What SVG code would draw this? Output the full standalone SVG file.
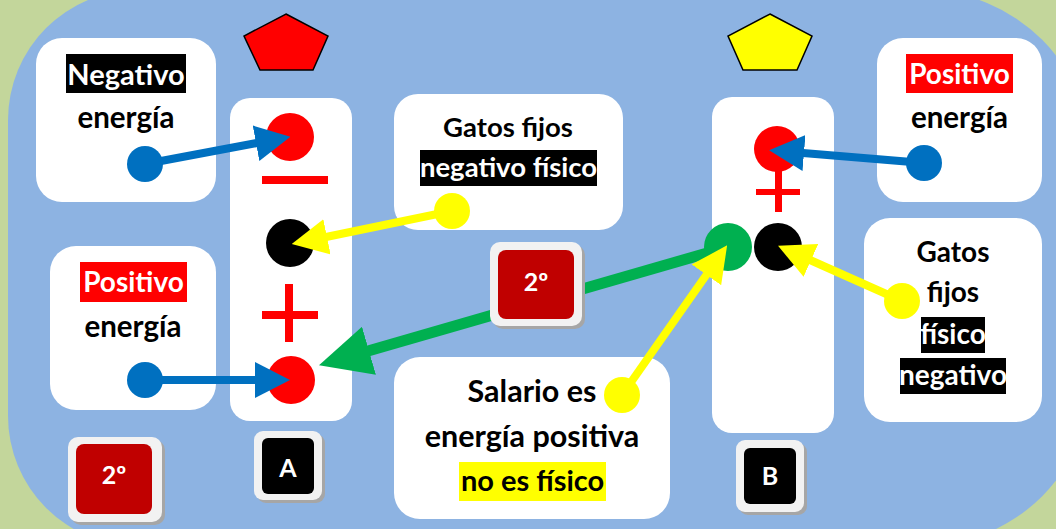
<svg xmlns="http://www.w3.org/2000/svg" width="1056" height="529" viewBox="0 0 1056 529">
<style>
.box{fill:#FFFFFF}
.t{font-family:Lato,"Liberation Sans",sans-serif;font-weight:bold;font-size:28px;text-anchor:middle;fill:#000000}
.e{font-size:29.5px}
.s{font-size:30.5px}
.w{fill:#FFFFFF}
.tile-out{fill:#F2F2F2}
.tile-sh{fill:#A6A6A6}
.tt{font-family:Lato,"Liberation Sans",sans-serif;font-weight:bold;font-size:25px;text-anchor:middle;fill:#FFFFFF}
.red{fill:#FF0000}
.blk{fill:#000000}
.bl{fill:none;stroke:#0070C0;stroke-width:8}
.yl{fill:none;stroke:#FFFF00;stroke-width:8}
.gr{fill:none;stroke:#00B050;stroke-width:11}
</style>
<defs>
<marker id="hb" markerUnits="userSpaceOnUse" viewBox="0 -18 35 36" markerWidth="35" markerHeight="36" refX="1" refY="0" orient="auto"><path d="M0,-18 L35,0 L0,18 z" fill="#0070C0"/></marker>
<marker id="hy" markerUnits="userSpaceOnUse" viewBox="0 -18 36 36" markerWidth="36" markerHeight="36" refX="1" refY="0" orient="auto"><path d="M0,-18 L36,0 L0,18 z" fill="#FFFF00"/></marker>
<marker id="hg" markerUnits="userSpaceOnUse" viewBox="0 -25 52 50" markerWidth="52" markerHeight="50" refX="1" refY="0" orient="auto"><path d="M0,-25 L52,0 L0,25 z" fill="#00B050"/></marker>
</defs>
<rect x="0" y="0" width="1056" height="529" fill="#C3D69B"/>
<path d="M138,-10 H922 A170,170 0 0 1 1092,160 V376 A170,170 0 0 1 922,546 H138 A130,130 0 0 1 8,416 V120 A130,130 0 0 1 138,-10 Z" fill="#8DB3E2"/>

<g id="box-neg-energia">
<rect class="box" x="36" y="38" width="180" height="164" rx="26"/>
<rect class="blk" x="66" y="54" width="120" height="39"/>
<text class="t w" x="126" y="85" style="font-size:29px">Negativo</text>
<text class="t e" x="126" y="128">energía</text>
</g>
<g id="box-pos-energia-left">
<rect class="box" x="50" y="246" width="166" height="164" rx="26"/>
<rect class="red" x="80" y="262" width="107" height="40"/>
<text class="t w" x="133.5" y="292">Positivo</text>
<text class="t e" x="133" y="337">energía</text>
</g>
<g id="column-A">
<polygon points="286,14 328,36 313,70 260,70 244,36" fill="#FF0000" stroke="#000000" stroke-width="1.5"/>
<rect class="box" x="230" y="98" width="122" height="323" rx="20"/>
<circle class="red" cx="290" cy="137" r="24"/>
<rect class="red" x="262" y="176" width="66" height="8"/>
<circle class="blk" cx="290" cy="243" r="24"/>
<rect class="red" x="262" y="311" width="56" height="8"/>
<rect class="red" x="285" y="284" width="8" height="58"/>
<circle class="red" cx="291" cy="380" r="24"/>
</g>
<g id="box-gatos-neg-fisico">
<rect class="box" x="394" y="94" width="229" height="136" rx="24"/>
<text class="t" x="508" y="137" style="font-size:27.5px">Gatos fijos</text>
<rect class="blk" x="420" y="150" width="177" height="36"/>
<text class="t w" x="508.5" y="177" style="font-size:27.5px">negativo físico</text>
</g>
<g id="box-salario">
<rect class="box" x="394" y="357" width="276" height="162" rx="26"/>
<text class="t s" x="532" y="402">Salario es</text>
<text class="t s" x="532" y="447">energía positiva</text>
<rect x="459" y="462" width="147" height="39" fill="#FFFF00"/>
<text class="t" x="532.5" y="491" style="font-size:29px">no es físico</text>
</g>
<g id="column-B">
<polygon points="770,14 812,36 797,70 743,70 728,36" fill="#FFFF00" stroke="#000000" stroke-width="1.5"/>
<rect class="box" x="712" y="97" width="122" height="336" rx="20"/>
<circle class="red" cx="777" cy="149" r="23"/>
<rect class="red" x="775" y="168" width="7" height="44"/>
<rect class="red" x="756" y="189" width="44" height="6"/>
<circle class="blk" cx="778" cy="247" r="24"/>
</g>
<g id="box-pos-energia-right">
<rect class="box" x="877" y="38" width="165" height="164" rx="26"/>
<rect class="red" x="906" y="54" width="107" height="39"/>
<text class="t w" x="959.5" y="84">Positivo</text>
<text class="t e" x="959.5" y="128">energía</text>
</g>
<g id="box-gatos-fisico-neg">
<rect class="box" x="864" y="218" width="178" height="204" rx="26"/>
<text class="t" x="953" y="262">Gatos</text>
<text class="t" x="953" y="302">fijos</text>
<rect class="blk" x="921" y="317" width="64" height="36"/>
<text class="t w" x="953" y="344">físico</text>
<rect class="blk" x="900" y="358" width="106" height="36"/>
<text class="t w" x="953" y="385">negativo</text>
</g>

<g id="connectors">
<path class="gr" d="M728,247 L368,351" marker-end="url(#hg)"/>
<circle cx="728" cy="247" r="24" fill="#00B050"/>
<path class="bl" d="M145,164 L257,143" marker-end="url(#hb)"/>
<circle cx="145" cy="164" r="18" fill="#0070C0"/>
<path class="bl" d="M145,380 L256,380" marker-end="url(#hb)"/>
<circle cx="145" cy="380" r="18" fill="#0070C0"/>
<path class="bl" d="M924,163 L803,153" marker-end="url(#hb)"/>
<circle cx="924" cy="163" r="18" fill="#0070C0"/>
<path class="yl" d="M452,211 L326,237" marker-end="url(#hy)"/>
<circle cx="452" cy="211" r="18" fill="#FFFF00"/>
<path class="yl" d="M622,395 L707,274" marker-end="url(#hy)"/>
<circle cx="622" cy="395" r="18" fill="#FFFF00"/>
<path class="yl" d="M902,301 L810,260" marker-end="url(#hy)"/>
<circle cx="902" cy="301" r="18" fill="#FFFF00"/>
</g>

<g id="tile-2-center">
<rect class="tile-sh" x="493" y="245" width="92" height="84" rx="10"/>
<rect class="tile-out" x="490" y="242" width="92" height="84" rx="10"/>
<rect x="498" y="250" width="76" height="69" rx="8" fill="#C00000"/>
<text class="tt" x="536" y="291">2º</text>
</g>
<g id="tile-2-left">
<rect class="tile-sh" x="71" y="440" width="94" height="85" rx="10"/>
<rect class="tile-out" x="68" y="437" width="94" height="85" rx="10"/>
<rect x="76" y="444" width="76" height="70" rx="8" fill="#C00000"/>
<text class="tt" x="114" y="484">2º</text>
</g>
<g id="tile-A">
<rect class="tile-sh" x="257" y="434" width="68" height="69" rx="9"/>
<rect class="tile-out" x="254" y="431" width="68" height="69" rx="9"/>
<rect class="blk" x="262" y="438" width="52" height="56" rx="6"/>
<text class="tt" x="288" y="477">A</text>
</g>
<g id="tile-B">
<rect class="tile-sh" x="739" y="443" width="68" height="72" rx="9"/>
<rect class="tile-out" x="736" y="440" width="68" height="72" rx="9"/>
<rect class="blk" x="744" y="448" width="52" height="56" rx="6"/>
<text class="tt" x="770" y="485">B</text>
</g>
</svg>
